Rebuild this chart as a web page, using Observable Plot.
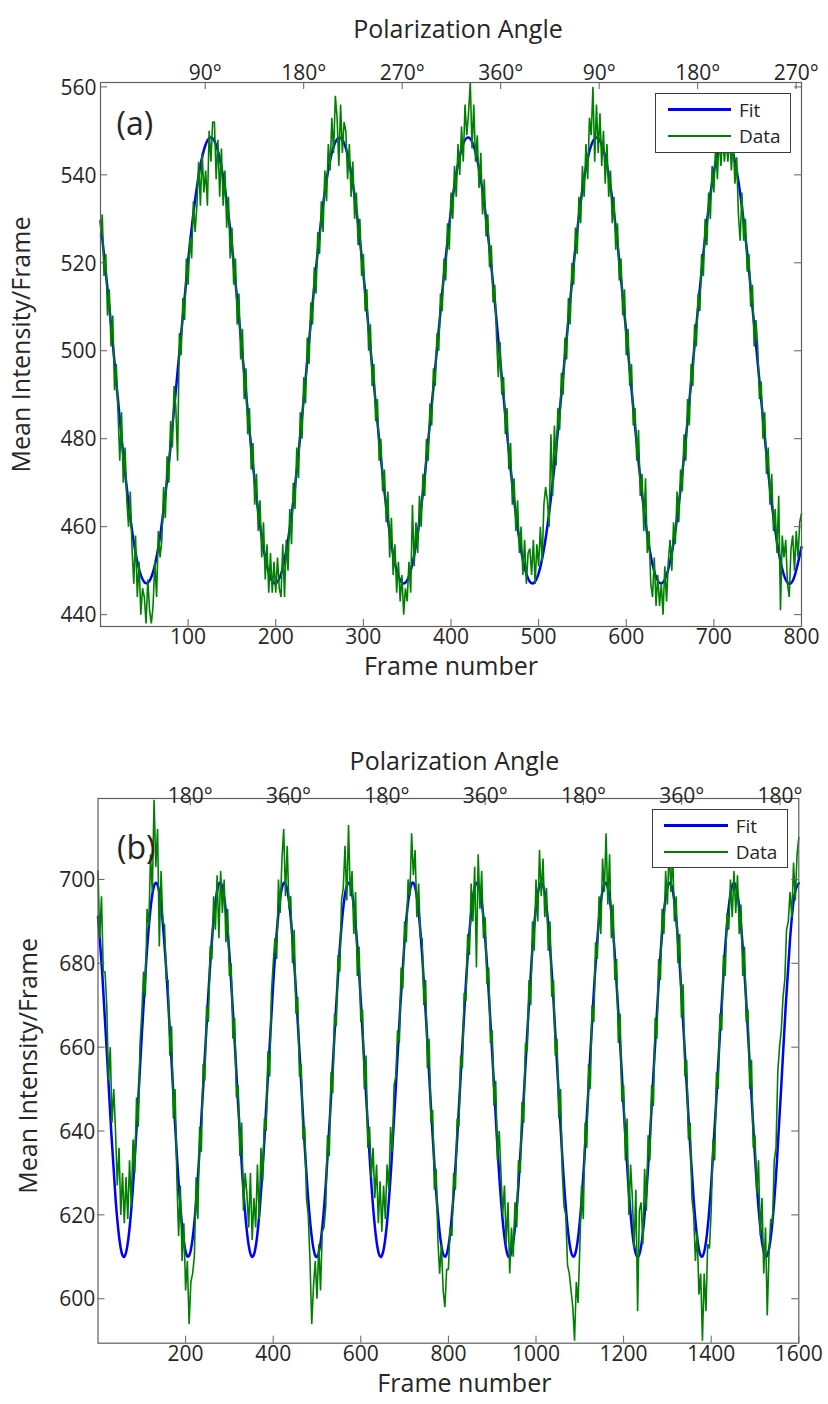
<!DOCTYPE html>
<html>
<head>
<meta charset="utf-8">
<script src="https://cdn.jsdelivr.net/npm/d3@7"></script>
<script src="https://cdn.jsdelivr.net/npm/@observablehq/plot@0.6"></script>
<style>
  html, body { margin:0; padding:0; background:#fff; }
  body { width:828px; height:1404px; overflow:hidden; font-family:"Open Sans", sans-serif; color:#262626; }
  .panel { position:relative; width:828px; }
  .panel svg { display:block; }
  .legend { position:absolute; box-sizing:border-box; border:1px solid #3c3c3c; background:#fff; }
  .legend .ln { position:absolute; }
  .legend .tx { position:absolute; font-size:19px; line-height:20px; white-space:nowrap; color:#262626; }
</style>
</head>
<body>
<div id="panelA" class="panel"></div>
<div id="panelB" class="panel"></div>
<script>
// ---------------- Panel (a) ----------------
const framesA = d3.range(0, 801, 2);
const intensityA = [
526,531,517,522,508, 514,501,508,491,497, 486,475,486,470,478, 466,460,468,455,447,
458,444,452,440,446, 444,438,448,441,438, 442,452,444,459,453, 457,469,462,476,470,
484,478,492,487,475, 504,499,512,507,521, 515,526,521,534,527, 533,543,533,545,536,
541,533,550,543,552, 552,539,548,535,546, 533,541,528,535,521, 528,515,521,506,513,
498,505,489,496,481, 487,473,479,465,472, 459,466,453,461,448, 456,445,454,445,452,
445,453,446,444,456, 444,457,450,464,456, 470,464,478,471,486, 480,494,488,503,497,
511,506,519,513,527, 522,534,527,541,534, 547,541,553,545,558, 553,542,556,545,552,
550,539,547,535,543, 530,536,524,530,517, 522,509,514,500,506, 492,497,484,489,475,
480,468,473,461,468, 453,462,449,456,445, 452,443,449,440,446, 443,452,445,465,451,
461,454,467,460,472, 467,480,475,488,483, 496,492,504,500,513, 509,521,516,529,523,
536,530,542,535,547, 540,551,543,556,549, 554,561,546,556,543, 549,537,545,531,539,
526,531,519,524,511, 515,503,494,502,490, 494,481,487,473,479, 465,471,459,466,454,
460,449,457,447,454, 455,449,457,447,456, 451,460,452,465,469, 466,460,481,467,483,
474,487,482,495,490, 503,498,512,506,520, 515,528,522,535,529, 542,535,547,539,553,
549,560,543,556,545, 554,542,550,538,547, 535,541,529,535,523, 529,516,521,508,514,
499,505,492,497,483, 487,475,482,467,472, 459,471,454,459,447, 444,453,442,449,442,
447,440,451,443,452, 457,450,461,456,468, 461,473,468,481,475, 489,483,497,492,506,
501,513,509,522,517, 530,524,536,530,542, 536,547,539,549,542, 549,543,548,543,549,
541,548,538,544,531, 525,536,525,530,518, 522,510,515,501,507, 501,489,493,480,486,
472,478,465,472,459, 464,454,467,441,458, 453,457,447,444,455, 458,450,459,453,461,
463
];
const fitFramesA = d3.range(0, 801, 10);
const fitA = [
529.5,510.2,488.7,468.8,454.1,447.4,449.7,460.7,478.4,499.6,
520.4,537.2,546.9,547.7,539.5,523.9,503.4,482.0,463.4,451.1,
447.1,452.4,465.8,484.9,506.4,526.4,541.2,548.1,546.1,535.2,
517.6,496.5,475.6,458.6,448.8,447.8,455.8,471.4,491.8,513.2,
531.9,544.3,548.5,543.4,530.2,511.1,489.5,469.5,454.6,447.5,
449.4,460.1,477.6,498.7,519.7,536.7,546.7,547.8,540.0,524.5,
504.2,482.8,464.1,451.4,447.1,452.0,465.1,484.2,505.7,525.7,
540.7,548.0,546.3,535.8,518.4,497.3,476.3,459.2,449.0,447.7,
455.4
];
const xTicksA = [100, 200, 300, 400, 500, 600, 700, 800];
const yTicksA = [440, 460, 480, 500, 520, 540, 560];
const angleTicksA = [119.5, 231.9, 344.3, 456.7, 569.1, 681.5, 793.9];
const angleLabelsA = ["90°", "180°", "270°", "360°", "90°", "180°", "270°"];

// ---------------- Panel (b) ----------------
const framesB = d3.range(0, 1601, 4);
const intensityB = [
702,686,696,678,678, 670,652,660,642,650, 640,627,636,620,630, 618,629,619,633,622,
638,630,648,641,661, 668,678,672,693,689, 706,697,719,703,712, 684,702,690,689,676,
676,658,665,643,650, 629,615,627,609,618, 602,609,594,604,606, 610,629,619,641,635,
656,652,670,666,684, 681,696,688,701,686, 702,692,700,685,693, 677,680,662,667,648,
651,634,642,621,630, 625,617,630,614,624, 617,632,619,636,628, 643,640,659,653,673,
680,686,681,700,692, 705,712,696,708,693, 696,680,688,668,672, 653,656,638,641,624,
620,609,594,603,609, 600,613,602,616,617, 622,639,634,654,649, 668,665,682,678,695,
698,708,695,713,696, 702,687,697,677,684, 666,669,650,658,636, 641,629,636,624,632,
618,628,616,627,619, 632,626,641,635,651, 653,664,661,679,674, 690,685,700,696,711,
701,707,691,699,686, 686,670,676,655,662, 642,645,626,631,614, 606,613,602,598,607,
607,617,615,630,626, 643,641,658,655,673, 671,687,682,699,690, 703,679,706,693,702,
686,691,675,679,661, 664,646,652,633,640, 630,620,627,613,623, 606,617,610,623,617,
633,630,647,642,661, 659,676,670,690,683, 700,690,707,696,705, 691,698,683,690,672,
676,658,662,643,650, 630,622,620,608,606, 602,598,590,604,599, 612,627,619,642,636,
656,650,670,666,685, 681,696,687,705,697, 711,694,706,686,694, 676,681,661,668,647,
651,633,643,620,632, 624,612,626,597,621, 623,613,631,621,639, 633,651,646,667,662,
681,676,693,687,702, 694,708,697,706,690, 696,680,687,667,675, 653,657,638,642,624,
620,609,616,601,606, 590,606,597,613,612, 621,638,633,654,650, 668,664,682,677,692,
688,700,691,702,692, 701,687,694,677,684, 666,669,650,657,636, 639,625,633,615,624,
606,617,596,611,619, 618,633,636,654,660, 664,672,676,688,690, 697,691,704,695,706,
710
];
const fitFramesB = d3.range(0, 1601, 10);
const fitB = [
691.1,677.1,659.1,640.2,624.0,613.3,610.0,614.9,626.9,643.9,
662.9,680.3,693.1,699.0,696.8,686.9,671.3,652.6,634.3,619.6,
611.3,610.8,618.2,632.2,650.2,669.1,685.4,696.0,699.2,694.2,
682.2,665.2,646.2,628.8,616.0,610.2,612.4,622.4,638.1,656.8,
675.1,689.7,698.0,698.4,690.9,676.8,658.8,639.9,623.7,613.2,
610.0,615.0,627.1,644.2,663.1,680.6,693.3,699.0,696.7,686.8,
671.1,652.3,634.1,619.5,611.2,610.8,618.3,632.4,650.5,669.4,
685.5,696.1,699.2,694.2,682.1,665.0,646.0,628.6,615.9,610.2,
612.5,622.4,638.2,656.9,675.2,689.8,698.0,698.4,690.8,676.7,
658.7,639.8,623.6,613.1,610.0,615.1,627.2,644.3,663.3,680.7,
693.4,699.0,696.7,686.7,671.0,652.2,633.9,619.4,611.2,610.9,
618.4,632.6,650.6,669.5,685.6,696.1,699.1,694.1,681.9,664.8,
645.9,628.5,615.8,610.2,612.5,622.6,638.3,657.1,675.3,689.9,
698.0,698.3,690.7,676.5,658.5,639.7,623.6,613.0,610.1,615.1,
627.3,644.5,663.4,680.8,693.4,699.0,696.6,686.6,670.8,652.0,
633.8,619.3,611.2,610.9,618.5,632.7,650.8,669.6,685.7,696.2,
699.1
];
const xTicksB = [200, 400, 600, 800, 1000, 1200, 1400, 1600];
const yTicksB = [600, 620, 640, 660, 680, 700];
const angleTicksB = [210.7, 435.1, 659.5, 883.9, 1108.3, 1332.7, 1557.1];
const angleLabelsB = ["180°", "360°", "180°", "360°", "180°", "360°", "180°"];

// ---------------- shared text ----------------
const seriesNames = ["Fit", "Data"];
const seriesColors = ["#0000ff", "#008000"];
const xTitle = "Frame number";
const yTitle = "Mean Intensity/Frame";
const topTitle = "Polarization Angle";

function drawPanel(cfg) {
  const W = 828;
  const innerW = W - cfg.ml - cfg.mr;
  const innerH = cfg.height - cfg.mt - cfg.mb;
  const data = cfg.frames.map((f, i) => ({frame: f, value: cfg.values[i]}));
  const fit = cfg.fitFrames.map((f, i) => ({frame: f, value: cfg.fit[i]}));
  const angleMap = new Map(cfg.angleTicks.map((t, i) => [t, cfg.angleLabels[i]]));
  const axisColor = "#5f5f5f";
  const svg = Plot.plot({
    width: W,
    height: cfg.height,
    marginLeft: cfg.ml, marginRight: cfg.mr, marginTop: cfg.mt, marginBottom: cfg.mb,
    style: {fontFamily: "'Open Sans', sans-serif", fontSize: "21px", color: "#262626", background: "#fff", overflow: "visible"},
    x: {domain: cfg.xDomain, axis: null},
    y: {domain: cfg.yDomain, axis: null},
    marks: [
      Plot.line(fit, {x: "frame", y: "value", stroke: seriesColors[0], strokeWidth: 2.5, curve: "natural"}),
      Plot.line(data, {x: "frame", y: "value", stroke: seriesColors[1], strokeWidth: 1.6, strokeLinejoin: "miter"}),
      Plot.frame({stroke: axisColor, strokeWidth: 1.2}),
      Plot.ruleX(cfg.xTicks, {x: d => d, insetTop: innerH - 7, stroke: axisColor}),
      Plot.ruleX(cfg.angleTicks, {x: d => d, insetBottom: innerH - 7, stroke: axisColor}),
      Plot.ruleY(cfg.yTicks, {y: d => d, insetRight: innerW - 7, stroke: axisColor}),
      Plot.ruleY(cfg.yTicks, {y: d => d, insetLeft: innerW - 7, stroke: axisColor}),
      Plot.text(cfg.xTicks, {x: d => d, text: d => String(d), frameAnchor: "bottom", dy: cfg.xLabDy, fontSize: 21}),
      Plot.text(cfg.yTicks, {y: d => d, text: d => String(d), frameAnchor: "left", textAnchor: "end", dx: cfg.yLabDx, dy: 1, fontSize: 21}),
      Plot.text(cfg.angleTicks, {x: d => d, text: d => angleMap.get(d), frameAnchor: "top", dy: cfg.angleDy, fontSize: 21}),
      Plot.text([xTitle], {text: d => d, frameAnchor: "bottom", textAnchor: "middle", dx: cfg.xTitleDx, dy: cfg.xTitleDy, fontSize: 25}),
      Plot.text([topTitle], {text: d => d, frameAnchor: "top", textAnchor: "middle", dx: cfg.topTitleDx, dy: cfg.topTitleDy, fontSize: 25}),
      Plot.text([yTitle], {text: d => d, frameAnchor: "left", textAnchor: "middle", rotate: -90, dx: cfg.yTitleDx, dy: cfg.yTitleDy, fontSize: 25}),
      Plot.text([cfg.tag], {text: d => d, frameAnchor: "top-left", textAnchor: "start", dx: cfg.tagDx, dy: cfg.tagDy, fontSize: 32})
    ]
  });
  const host = document.getElementById(cfg.id);
  host.appendChild(svg);

  // legend overlay
  const lg = document.createElement("div");
  lg.className = "legend";
  Object.assign(lg.style, {left: cfg.legend.left + "px", top: cfg.legend.top + "px", width: cfg.legend.w + "px", height: cfg.legend.h + "px"});
  const rows = [{c: 15.6, t: 5.9, lw: 3}, {c: 42.3, t: 32.2, lw: 2}];
  seriesNames.forEach((name, i) => {
    const ln = document.createElement("div");
    ln.className = "ln";
    Object.assign(ln.style, {left: "11.7px", width: "63.5px", top: (rows[i].c - rows[i].lw / 2) + "px", height: rows[i].lw + "px", background: seriesColors[i]});
    const tx = document.createElement("div");
    tx.className = "tx";
    Object.assign(tx.style, {left: "83px", top: rows[i].t + "px"});
    tx.textContent = name;
    lg.appendChild(ln);
    lg.appendChild(tx);
  });
  host.appendChild(lg);
}

drawPanel({
  id: "panelA", tag: "(a)", height: 700, ml: 100, mr: 27, mt: 82, mb: 74,
  frames: framesA, values: intensityA, fitFrames: fitFramesA, fit: fitA,
  xDomain: [0, 800], yDomain: [437.3, 561],
  xTicks: xTicksA, yTicks: yTicksA, angleTicks: angleTicksA, angleLabels: angleLabelsA,
  xLabDy: 17, yLabDx: -4, angleDy: -17.9,
  xTitleDx: 0, xTitleDy: 48, topTitleDx: 7, topTitleDy: -62.5,
  yTitleDx: -79, yTitleDy: -10, tagDx: 16, tagDy: 30,
  legend: {left: 655, top: 92.7, w: 136, h: 60}
});

drawPanel({
  id: "panelB", tag: "(b)", height: 704, ml: 97.5, mr: 29.7, mt: 98, mb: 61.3,
  frames: framesB, values: intensityB, fitFrames: fitFramesB, fit: fitB,
  xDomain: [0, 1600], yDomain: [589.4, 719.3],
  xTicks: xTicksB, yTicks: yTicksB, angleTicks: angleTicksB, angleLabels: angleLabelsB,
  xLabDy: 17.3, yLabDx: -2.7, angleDy: -10.5,
  xTitleDy: 48.7, xTitleDx: 16, topTitleDx: 6, topTitleDy: -46.3,
  yTitleDx: -69.4, yTitleDy: -5, tagDx: 19, tagDy: 38,
  legend: {left: 651.7, top: 109, w: 136.6, h: 59.3}
});
</script>
</body>
</html>
